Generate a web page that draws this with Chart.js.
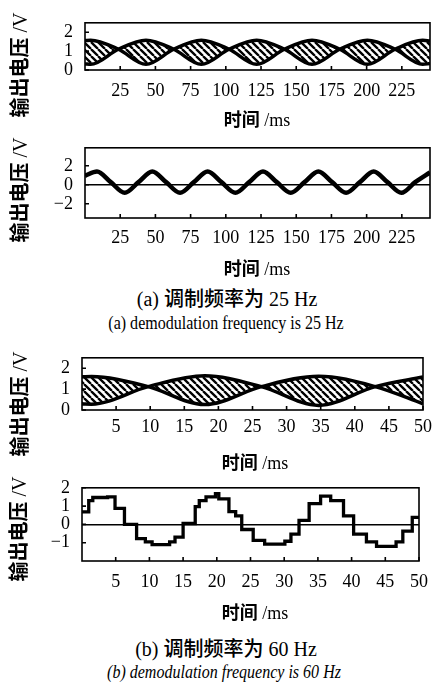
<!DOCTYPE html>
<html>
<head>
<meta charset="utf-8">
<script src="https://cdn.jsdelivr.net/npm/chart.js@4.4.1/dist/chart.umd.min.js"></script>
<style>
    body { margin: 0; background: #fff; width: 438px; height: 682px; position: relative; overflow: hidden; color: #000; font-family: "Liberation Serif", serif; }
    canvas { position: absolute; left: 0; }
    .t { position: absolute; white-space: nowrap; line-height: 1; }
    .cjk { font-family: "Noto Sans CJK SC", sans-serif; font-weight: bold; }
    .yt { font-size: 20px; transform: translate(-50%, -50%) rotate(-90deg); }
    .xt { font-size: 18px; transform: translate(-50%, -50%); }
    .cap { font-size: 20px; transform: translate(-50%, -50%); }
    .cap .cjk { font-weight: 500; }
    .en { font-size: 18px; transform: translate(-50%, -50%) scaleX(0.89); }
</style>
</head>
<body>
<canvas id="chart-a1" width="438" height="110" style="top:0"></canvas>
<canvas id="chart-a2" width="438" height="130" style="top:125px"></canvas>
<canvas id="chart-b1" width="438" height="110" style="top:335px"></canvas>
<canvas id="chart-b2" width="438" height="135" style="top:465px"></canvas>

<div class="t yt" style="left:19px;top:65px"><span class="cjk">输出电压</span> /V</div>
<div class="t yt" style="left:19px;top:190px"><span class="cjk">输出电压</span> /V</div>
<div class="t yt" style="left:19px;top:404px"><span class="cjk">输出电压</span> /V</div>
<div class="t yt" style="left:18px;top:529px"><span class="cjk">输出电压</span> /V</div>

<div class="t xt" style="left:257px;top:119px"><span class="cjk">时间</span> /ms</div>
<div class="t xt" style="left:257px;top:268px"><span class="cjk">时间</span> /ms</div>
<div class="t xt" style="left:255px;top:462px"><span class="cjk">时间</span> /ms</div>
<div class="t xt" style="left:255px;top:612px"><span class="cjk">时间</span> /ms</div>

<div class="t cap" style="left:227px;top:298px">(a) <span class="cjk">调制频率为</span> 25 Hz</div>
<div class="t en" style="left:226px;top:323px">(a) demodulation frequency is 25 Hz</div>
<div class="t cap" style="left:226px;top:648px">(b) <span class="cjk">调制频率为</span> 60 Hz</div>
<div class="t en" style="left:224px;top:672px;font-style:italic">(b) demodulation frequency is 60 Hz</div>

<script>
// (a) 25 Hz - hatched band, two antiphase envelopes
const timeA = [0, 4, 23.7, 43.3, 63, 82.6, 102.3, 121.9, 141.6, 161.2, 180.9, 200.5, 220.2, 239.8, 245];
const upperA = [1.56, 1.58, 1.1, 0.3, 1.1, 1.58, 1.1, 0.3, 1.1, 1.58, 1.1, 0.3, 1.1, 1.57, 1.54];
const lowerA = [0.32, 0.3, 1.1, 1.58, 1.1, 0.3, 1.1, 1.58, 1.1, 0.3, 1.1, 1.58, 1.1, 0.3, 0.34];

// (a) 25 Hz - demodulated output
const timeOutA = [0, 8.5, 18.3, 28.2, 38, 47.8, 57.6, 67.5, 77.3, 87.1, 96.9, 106.8, 116.6, 126.4, 136.2,
    146.1, 155.9, 165.7, 175.5, 185.4, 195.2, 205, 214.8, 224.7, 234.5, 245];
const outA = [0.95, 1.4, 0.28, -0.85, 0.28, 1.4, 0.28, -0.85, 0.28, 1.4, 0.28, -0.85, 0.28, 1.4, 0.28,
    -0.85, 0.28, 1.4, 0.28, -0.85, 0.28, 1.4, 0.28, -0.85, 0.28, 1.3];

// (b) 60 Hz - hatched band
const timeB = [0, 1.4, 9.7, 18, 26.3, 34.7, 43, 50];
const upperB = [1.59, 1.6, 1.12, 0.26, 1.12, 1.62, 1.12, 0.3];
const lowerB = [0.29, 0.28, 1.12, 1.64, 1.12, 0.22, 1.12, 1.58];

// (b) 60 Hz - sampled (stepped) output
const timeOutB = [0, 1.0, 1.6, 3.8, 4.9, 6.3, 8.1, 9.4, 10.4, 13.0, 13.8, 15.0, 16.8, 17.4, 18.4, 19.8, 20.3, 21.8,
    22.8, 23.7, 25.4, 27.1, 30.1, 31.0, 32.2, 33.7, 35.4, 36.9, 38.8, 40.3, 42.2, 43.7, 46.6, 47.6, 49.0, 50];
const outB = [0.68, 1.3, 1.47, 1.5, 0.88, 0.0, -0.78, -0.95, -1.1, -0.95, -0.7, 0.05, 0.97, 1.3, 1.5, 1.68, 1.4, 0.7,
    0.47, -0.28, -0.87, -1.08, -0.92, -0.53, 0.22, 1.13, 1.55, 1.3, 0.47, -0.53, -0.95, -1.2, -0.95, -0.37, 0.38, 0.38];

const xTicksA = [25, 50, 75, 100, 125, 150, 175, 200, 225];
const xTicksB = [5, 10, 15, 20, 25, 30, 35, 40, 45, 50];
const yTicksBand = [0, 1, 2];
const yTicksOutA = [-2, 0, 2];
const yTicksOutB = [-1, 0, 1, 2];

const tickFont = { family: '"Liberation Serif", serif', size: 18 };

function hatch() {
    const c = document.createElement('canvas');
    c.width = c.height = 7;
    const g = c.getContext('2d');
    g.strokeStyle = '#000';
    g.lineWidth = 2.3;
    g.beginPath();
    for (let k = -1; k <= 1; k++) {
        g.moveTo(k * 7, 0);
        g.lineTo(k * 7 + 7, 7);
    }
    g.stroke();
    return g.createPattern(c, 'repeat');
}

const pts = (xs, ys) => xs.map((x, i) => ({ x, y: ys[i] }));

// box round the plot and small inner ticks
const frame = {
    id: 'frame',
    afterDraw(chart) {
        const { ctx, chartArea: a, scales: { x, y } } = chart;
        ctx.save();
        ctx.strokeStyle = '#000';
        ctx.lineWidth = 1.6;
        ctx.strokeRect(a.left, a.top, a.right - a.left, a.bottom - a.top);
        ctx.beginPath();
        x.ticks.forEach(t => {
            const px = x.getPixelForValue(t.value);
            ctx.moveTo(px, a.bottom);
            ctx.lineTo(px, a.bottom - 4);
        });
        y.ticks.forEach(t => {
            const py = y.getPixelForValue(t.value);
            ctx.moveTo(a.left, py);
            ctx.lineTo(a.left + 4, py);
        });
        ctx.stroke();
        ctx.restore();
    }
};

function makeChart(id, cfg) {
    return new Chart(document.getElementById(id), {
        type: 'line',
        data: { datasets: cfg.datasets },
        options: {
            responsive: false,
            animation: false,
            devicePixelRatio: 1,
            layout: { padding: { top: cfg.top, right: 438 - cfg.right, left: 0, bottom: 0 } },
            plugins: { legend: { display: false }, tooltip: { enabled: false } },
            elements: { point: { radius: 0 } },
            scales: {
                x: {
                    type: 'linear',
                    min: cfg.xMin, max: cfg.xMax,
                    grid: { display: false, drawTicks: false },
                    border: { display: false },
                    afterBuildTicks: s => { s.ticks = cfg.xTicks.map(v => ({ value: v })); },
                    afterFit: s => { s.height = cfg.axisH; },
                    ticks: { font: tickFont, color: '#000', padding: cfg.xPad, autoSkip: false, maxRotation: 0, minRotation: 0 }
                },
                y: {
                    min: cfg.yMin, max: cfg.yMax,
                    grid: {
                        drawTicks: false,
                        lineWidth: 1.6,
                        color: c => (cfg.zero && c.tick && c.tick.value === 0) ? '#000' : 'rgba(0,0,0,0)'
                    },
                    border: { display: false },
                    afterBuildTicks: s => { s.ticks = cfg.yTicks.map(v => ({ value: v })); },
                    afterFit: s => { s.width = cfg.left; },
                    ticks: {
                        font: tickFont, color: '#000', padding: 12, autoSkip: false,
                        callback: v => String(v).replace('-', '\u2212')
                    }
                }
            }
        },
        plugins: [frame]
    });
}

const lineStyle = { borderColor: '#000', fill: false, cubicInterpolationMode: 'monotone' };

makeChart('chart-a1', {
    top: 11, left: 85, right: 430, axisH: 40, xPad: 10,
    xMin: 0, xMax: 245, yMin: 0, yMax: 2.5, xTicks: xTicksA, yTicks: yTicksBand,
    datasets: [
        { ...lineStyle, data: pts(timeA, upperA), borderWidth: 3.5 },
        { ...lineStyle, data: pts(timeA, lowerA), borderWidth: 3.5, fill: '-1', backgroundColor: hatch() }
    ]
});

makeChart('chart-a2', {
    top: 13, left: 85, right: 430, axisH: 37, xPad: 9,
    xMin: 0, xMax: 245, yMin: -3.5, yMax: 3.9, xTicks: xTicksA, yTicks: yTicksOutA, zero: true,
    datasets: [
        { ...lineStyle, data: pts(timeOutA, outA), borderWidth: 4.5 }
    ]
});

makeChart('chart-b1', {
    top: 17, left: 82, right: 425, axisH: 35, xPad: 6,
    xMin: 0, xMax: 50, yMin: 0, yMax: 2.5, xTicks: xTicksB, yTicks: yTicksBand,
    datasets: [
        { ...lineStyle, data: pts(timeB, upperB), borderWidth: 3.5 },
        { ...lineStyle, data: pts(timeB, lowerB), borderWidth: 3.5, fill: '-1', backgroundColor: hatch() }
    ]
});

makeChart('chart-b2', {
    top: 17, left: 82, right: 425, axisH: 39, xPad: 10,
    xMin: 0, xMax: 50, yMin: -2, yMax: 2, xTicks: xTicksB, yTicks: yTicksOutB, zero: true,
    datasets: [
        { borderColor: '#000', fill: false, stepped: true, data: pts(timeOutB, outB), borderWidth: 3.3 }
    ]
});
</script>
</body>
</html>
